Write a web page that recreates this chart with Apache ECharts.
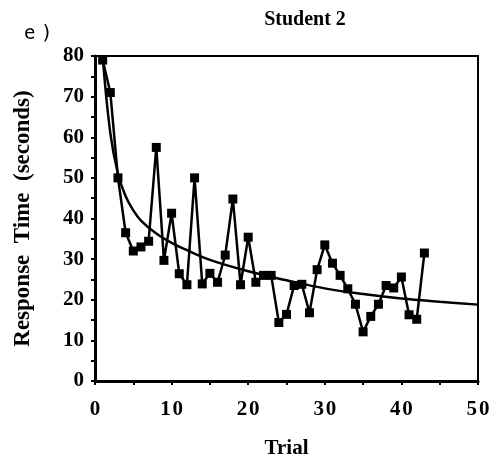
<!DOCTYPE html>
<html><head><meta charset="utf-8">
<script src="https://cdn.jsdelivr.net/npm/echarts@6/dist/echarts.min.js"></script>
<style>html,body{margin:0;padding:0;background:#fff}#c{width:501px;height:464px}</style>
</head><body><div id="c"></div>
<script>
var trials = [];
for (var i = 1; i <= 43; i++) trials.push(i);
var responseTimes = [79, 71, 50, 36.5, 32, 33, 34.4, 57.5, 29.7, 41.3, 26.4, 23.7, 50, 23.9, 26.5, 24.3, 31, 44.8, 23.7, 35.4,
  24.3, 26, 26, 14.4, 16.4, 23.5, 23.8, 16.8, 27.4, 33.5, 29, 26, 22.7, 18.9, 12.1, 15.9, 18.9, 23.5, 22.9, 25.6, 16.3, 15.2, 31.5];
var curveX = [1, 2, 3, 4, 5, 6, 8, 10, 12, 15, 20, 25, 30, 35, 40, 45, 50];
var curveY = [80, 61, 51, 45.5, 42, 39.5, 36.3, 34, 32.2, 29.8, 27, 24.8, 22.8, 21.4, 20.3, 19.5, 18.8];
var xTicks = [0, 10, 20, 30, 40, 50];
var yTicks = [0, 10, 20, 30, 40, 50, 60, 70, 80];

var chart = echarts.init(document.getElementById('c'), null, {renderer: 'canvas'});
var serif = '"Liberation Serif", "DejaVu Serif", serif';
var mono = '"DejaVu Sans Mono", monospace';
chart.setOption({
  animation: false,
  backgroundColor: '#fff',
  title: [
    {text: 'Student 2', left: 300, top: 5, textAlign: 'center',
     textStyle: {fontFamily: serif, fontWeight: 'bold', fontSize: 20, color: '#000'}},
    {text: 'e', left: 19, top: 20,
     textStyle: {fontFamily: mono, fontWeight: 'normal', fontSize: 19, color: '#000'}},
    {text: ')', left: 36, top: 20,
     textStyle: {fontFamily: mono, fontWeight: 'normal', fontSize: 19, color: '#000'}}
  ],
  grid: {left: 95, right: 23, top: 56, bottom: 83, show: true, borderColor: '#000', borderWidth: 2},
  xAxis: {
    type: 'value', min: 0, max: 50, interval: 10,
    name: 'Trial', nameLocation: 'middle', nameGap: 57,
    nameTextStyle: {fontFamily: serif, fontWeight: 'bold', fontSize: 21, color: '#000'},
    axisLine: {lineStyle: {color: '#000', width: 3}},
    axisTick: {inside: false, length: 4, lineStyle: {color: '#000', width: 2}},
    minorTick: {show: true, splitNumber: 2, length: 4, lineStyle: {color: '#000', width: 2}},
    splitLine: {show: false},
    axisLabel: {fontFamily: serif, fontWeight: 'bold', fontSize: 21, color: '#000', margin: 18,
      formatter: function (v) { return xTicks.indexOf(v) >= 0 ? String(v).split('').join('\u200A') : ''; }}
  },
  yAxis: {
    type: 'value', min: 0, max: 80, interval: 10,
    name: 'Response  Time  (seconds)', nameLocation: 'middle', nameGap: 60,
    nameTextStyle: {fontFamily: serif, fontWeight: 'bold', fontSize: 23, color: '#000'},
    axisLine: {show: true, lineStyle: {color: '#000', width: 3}},
    axisTick: {inside: false, length: 4, lineStyle: {color: '#000', width: 2}},
    minorTick: {show: true, splitNumber: 2, length: 4, lineStyle: {color: '#000', width: 2}},
    splitLine: {show: false},
    axisLabel: {fontFamily: serif, fontWeight: 'bold', fontSize: 21, color: '#000', margin: 11,
      formatter: function (v) { return yTicks.indexOf(v) >= 0 ? String(v) : ''; }}
  },
  series: [
    {type: 'line', data: curveX.map(function (x, i) { return [x, curveY[i]]; }),
     smooth: 0.4, symbol: 'none', lineStyle: {color: '#000', width: 2.5}, z: 2},
    {type: 'line', data: trials.map(function (t, i) { return [t, responseTimes[i]]; }),
     symbol: 'rect', symbolSize: 9, itemStyle: {color: '#000'},
     lineStyle: {color: '#000', width: 2.5}, z: 3}
  ]
});
</script></body></html>
